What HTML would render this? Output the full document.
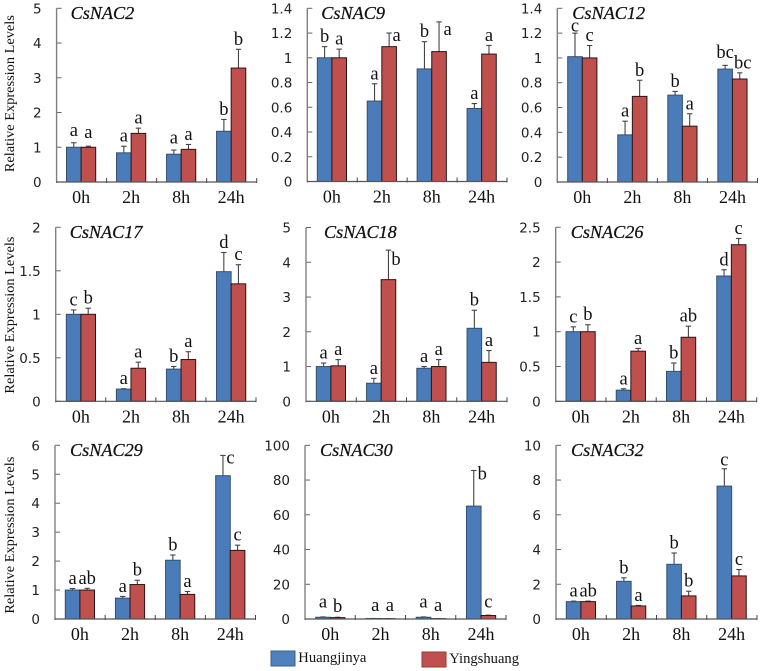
<!DOCTYPE html>
<html lang="en">
<head>
<meta charset="utf-8">
<title>CsNAC relative expression levels</title>
<style>
html,body{margin:0;padding:0;background:#fff;}
svg{display:block;}
.serif{font-family:"Liberation Serif",serif;fill:#111;}
.sans{font-family:"DejaVu Sans",sans-serif;fill:#222;}
</style>
</head>
<body>
<svg id="figure" xmlns="http://www.w3.org/2000/svg" width="761" height="671" viewBox="0 0 761 671">
  <g id="panels"></g>
  <g>
    <rect x="271" y="651" width="24" height="15" fill="#4F81BD" stroke="#3d5f86" stroke-width="1"></rect>
    <text class="serif" x="298.3" y="662" font-size="14.6">Huangjinya</text>
    <rect x="422" y="652" width="24" height="15" fill="#C0504D" stroke="#8f3b39" stroke-width="1"></rect>
    <text class="serif" x="449.3" y="663" font-size="14.6">Yingshuang</text>
  </g>
</svg>
<script>
const timepoints = ['0h', '2h', '8h', '24h'];

const nac2Ticks = ['0', '1', '2', '3', '4', '5'];
const nac2Huang = [1, 0.84, 0.8, 1.46];
const nac2HuangErr = [0.13, 0.19, 0.12, 0.34];
const nac2Ying = [1, 1.4, 0.94, 3.28];
const nac2YingErr = [0.03, 0.15, 0.14, 0.54];
const nac2HuangLetters = ['a', 'a', 'a', 'b'];
const nac2YingLetters = ['a', 'a', 'a', 'b'];

const nac9Ticks = ['0', '0.2', '0.4', '0.6', '0.8', '1', '1.2', '1.4'];
const nac9Huang = [1, 0.65, 0.91, 0.59];
const nac9HuangErr = [0.09, 0.14, 0.22, 0.04];
const nac9Ying = [1, 1.09, 1.05, 1.03];
const nac9YingErr = [0.07, 0.11, 0.24, 0.07];
const nac9HuangLetters = ['b', 'a', 'b', 'a'];
const nac9YingLetters = ['a', 'a>', 'a>', 'a'];

const nac12Ticks = ['0', '0.2', '0.4', '0.6', '0.8', '1', '1.2', '1.4'];
const nac12Huang = [1.01, 0.38, 0.7, 0.91];
const nac12HuangErr = [0.19, 0.11, 0.03, 0.03];
const nac12Ying = [1, 0.69, 0.45, 0.83];
const nac12YingErr = [0.1, 0.13, 0.1, 0.05];
const nac12HuangLetters = ['c', 'a', 'b', 'bc'];
const nac12YingLetters = ['c', 'b', 'a', 'bc'];

const nac17Ticks = ['0', '0.5', '1', '1.5', '2'];
const nac17Huang = [1, 0.14, 0.37, 1.49];
const nac17HuangErr = [0.05, 0.005, 0.03, 0.22];
const nac17Ying = [1, 0.38, 0.48, 1.35];
const nac17YingErr = [0.07, 0.07, 0.09, 0.22];
const nac17HuangLetters = ['c', 'a', 'b', 'd'];
const nac17YingLetters = ['b', 'a', 'a', 'c'];

const nac18Ticks = ['0', '1', '2', '3', '4', '5'];
const nac18Huang = [1, 0.52, 0.95, 2.1];
const nac18HuangErr = [0.1, 0.14, 0.05, 0.52];
const nac18Ying = [1.02, 3.5, 1, 1.12];
const nac18YingErr = [0.18, 0.85, 0.2, 0.34];
const nac18HuangLetters = ['a', 'a', 'a', 'b'];
const nac18YingLetters = ['a', 'b>', 'a', 'a'];

const nac26Ticks = ['0', '0.5', '1', '1.5', '2', '2.5'];
const nac26Huang = [1, 0.16, 0.43, 1.8];
const nac26HuangErr = [0.07, 0.02, 0.12, 0.09];
const nac26Ying = [1, 0.72, 0.92, 2.25];
const nac26YingErr = [0.1, 0.04, 0.16, 0.09];
const nac26HuangLetters = ['c', 'a', 'b', 'd'];
const nac26YingLetters = ['b', 'a', 'ab', 'c'];

const nac29Ticks = ['0', '1', '2', '3', '4', '5', '6'];
const nac29Huang = [1, 0.72, 2.03, 4.95];
const nac29HuangErr = [0.05, 0.06, 0.18, 0.7];
const nac29Ying = [1, 1.19, 0.85, 2.37];
const nac29YingErr = [0.06, 0.15, 0.1, 0.18];
const nac29HuangLetters = ['a', 'a', 'b', 'c>'];
const nac29YingLetters = ['ab', 'b', 'a', 'c'];

const nac30Ticks = ['0', '20', '40', '60', '80', '100'];
const nac30Huang = [1, 0.3, 1, 65];
const nac30HuangErr = [0.2, 0, 0.2, 20.5];
const nac30Ying = [0.8, 0.2, 0.2, 2];
const nac30YingErr = [0.2, 0, 0, 0.2];
const nac30HuangLetters = ['a', 'a', 'a', 'b>'];
const nac30YingLetters = ['b', 'a', 'a', 'c'];

const nac32Ticks = ['0', '2', '4', '6', '8', '10'];
const nac32Huang = [1, 2.17, 3.15, 7.65];
const nac32HuangErr = [0.03, 0.2, 0.65, 1];
const nac32Ying = [1, 0.75, 1.33, 2.48];
const nac32YingErr = [0.03, 0.03, 0.27, 0.37];
const nac32HuangLetters = ['a', 'b', 'b', 'c'];
const nac32YingLetters = ['ab', 'a', 'b', 'c'];

const NS = 'http://www.w3.org/2000/svg';
const root = document.getElementById('panels');

/* Layout nudges for letters that sit off their default spot (panel:series:group). */
function letterNudge(title, key, i) {
  const id = title + ':' + key + ':' + i;
  switch (id) {
    case 'CsNAC2:huangjinya:0': return [0, -2];
    case 'CsNAC2:yingshuang:0': return [0, -3.5];
    case 'CsNAC2:huangjinya:2': return [0, -2];
    case 'CsNAC9:yingshuang:1': return [-1, -3];
    case 'CsNAC9:yingshuang:2': return [0, 2];
    case 'CsNAC12:huangjinya:0': return [0, 3];
    case 'CsNAC12:huangjinya:3': return [0, -3];
    case 'CsNAC12:yingshuang:3': return [3, 0];
    case 'CsNAC18:yingshuang:1': return [-1, 4];
    case 'CsNAC29:huangjinya:3': return [-1, -3];
    case 'CsNAC30:huangjinya:0': return [0, -5];
    case 'CsNAC30:yingshuang:0': return [0, -1];
    case 'CsNAC30:huangjinya:1': return [2, -3];
    case 'CsNAC30:yingshuang:1': return [2, -3];
    case 'CsNAC30:huangjinya:2': return [0, -5];
    case 'CsNAC30:yingshuang:2': return [0, -3];
    case 'CsNAC30:huangjinya:3': return [0, -2];
    case 'CsNAC30:yingshuang:3': return [0, -3];
    case 'CsNAC32:huangjinya:3': return [0, 1.5];
    default: return [0, 0];
  }
}

function make(parent, tag, attrs, text) {
  const el = document.createElementNS(NS, tag);
  for (const k in attrs) el.setAttribute(k, attrs[k]);
  if (text !== undefined) el.textContent = text;
  parent.appendChild(el);
  return el;
}

function drawLetter(g, raw, cx, errTopY, name, size, nudge) {
  const side = raw.endsWith('>');
  const txt = side ? raw.slice(0, -1) : raw;
  const el = make(g, 'text', {
    x: (side ? cx + 8.5 : cx) + nudge[0],
    y: (side ? errTopY + 11 : errTopY - 4.5) + nudge[1],
    'text-anchor': 'middle',
    'font-size': size,
    class: 'serif'
  }, txt);
  
  
}

function drawPanel(p) {
  const g = make(root, 'g', {});
  
  

  const maxVal = Number(p.ticks[p.ticks.length - 1]);
  const yScale = v => p.y0 - (v / maxVal) * (p.y0 - p.yTop);
  const band = (p.xEnd - p.ax) / timepoints.length;
  const barW = 14.6;
  const xScale = i => p.barX + i * band;

  p.ticks.forEach(t => {
    const y = yScale(Number(t));
    const tick = make(g, 'line', { x1: p.ax, x2: p.ax + 5, y1: y, y2: y, stroke: '#666', 'stroke-width': 1 });
    
    
    const label = make(g, 'text', { x: p.ax - 15, y: y + 5, 'text-anchor': 'end', 'font-size': 13.5, class: 'sans' }, t);
    
    
  });

  for (let i = 0; i <= timepoints.length; i++) {
    const x = p.ax + i * band;
    const tick = make(g, 'line', { x1: x, x2: x, y1: p.y0 - 4, y2: p.y0 + 1, stroke: '#444', 'stroke-width': 1 });
    
    
  }

  const series = [
    { key: 'huangjinya', vals: p.huang, errs: p.huangErr, letters: p.huangLetters, fill: '#4A7CBA', stroke: '#34506f', dx: 0 },
    { key: 'yingshuang', vals: p.ying, errs: p.yingErr, letters: p.yingLetters, fill: '#C0504D', stroke: '#2b1414', dx: barW }
  ];

  series.forEach(s => {
    s.vals.forEach((v, i) => {
      const x = xScale(i) + s.dx;
      const cx = x + barW / 2;
      const top = yScale(v);
      const errTop = yScale(v + s.errs[i]);

      const stem = make(g, 'line', { x1: cx, x2: cx, y1: top, y2: errTop, stroke: '#444', 'stroke-width': 1.1 });
      
      
      const cap = make(g, 'line', { x1: cx - 2.7, x2: cx + 2.7, y1: errTop, y2: errTop, stroke: '#444', 'stroke-width': 1.1 });
      
      

      const bar = make(g, 'rect', { x: x, y: top, width: barW, height: Math.max(p.y0 - top, 0), fill: s.fill, stroke: s.stroke, 'stroke-width': 1 });
      
      

      drawLetter(g, s.letters[i], cx, errTop, 'significance-letter-' + s.key + '-' + timepoints[i], 18.5, letterNudge(p.title, s.key, i));
    });
  });

  const yAxis = make(g, 'line', { x1: p.ax, x2: p.ax, y1: p.yTop, y2: p.y0, stroke: '#808080', 'stroke-width': 1.4 });
  
  
  const xAxis = make(g, 'line', { x1: p.ax, x2: p.xEnd, y1: p.y0, y2: p.y0, stroke: '#555', 'stroke-width': 1.2 });
  
  

  timepoints.forEach((t, i) => {
    const label = make(g, 'text', { x: xScale(i) + barW, y: p.y0 + 21, 'text-anchor': 'middle', 'font-size': 18, class: 'serif' }, t);
    
    
  });

  const title = make(g, 'text', { x: p.ax + p.titleDx, y: p.yTop + 10.5, 'font-size': 18.2, 'font-style': 'italic', class: 'serif', stroke: '#111', 'stroke-width': 0.25 }, p.title);
  
  

  if (p.yLabel) {
    const mid = (p.y0 + p.yTop) / 2 + p.yLabelShift;
    const yl = make(g, 'text', {
      transform: 'translate(14,' + mid + ') rotate(-90)',
      'text-anchor': 'middle',
      'font-size': 14,
      textLength: 157,
      lengthAdjust: 'spacingAndGlyphs',
      class: 'serif'
    }, 'Relative Expression Levels');
    
    
  }
}

[
  { title: 'CsNAC2', ticks: nac2Ticks, huang: nac2Huang, huangErr: nac2HuangErr, ying: nac2Ying, yingErr: nac2YingErr, huangLetters: nac2HuangLetters, yingLetters: nac2YingLetters, ax: 56.6, xEnd: 256.7, y0: 182, yTop: 8.3, barX: 66.5, titleDx: 14, yLabel: true, yLabelShift: -1.5 },
  { title: 'CsNAC9', ticks: nac9Ticks, huang: nac9Huang, huangErr: nac9HuangErr, ying: nac9Ying, yingErr: nac9YingErr, huangLetters: nac9HuangLetters, yingLetters: nac9YingLetters, ax: 307.3, xEnd: 507, y0: 181.5, yTop: 8.3, barX: 317.3, titleDx: 14 },
  { title: 'CsNAC12', ticks: nac12Ticks, huang: nac12Huang, huangErr: nac12HuangErr, ying: nac12Ying, yingErr: nac12YingErr, huangLetters: nac12HuangLetters, yingLetters: nac12YingLetters, ax: 557.3, xEnd: 757.5, y0: 182, yTop: 8.3, barX: 567.7, titleDx: 15 },
  { title: 'CsNAC17', ticks: nac17Ticks, huang: nac17Huang, huangErr: nac17HuangErr, ying: nac17Ying, yingErr: nac17YingErr, huangLetters: nac17HuangLetters, yingLetters: nac17YingLetters, ax: 55.7, xEnd: 256, y0: 401.3, yTop: 227.3, barX: 66.3, titleDx: 14, yLabel: true, yLabelShift: 0.8 },
  { title: 'CsNAC18', ticks: nac18Ticks, huang: nac18Huang, huangErr: nac18HuangErr, ying: nac18Ying, yingErr: nac18YingErr, huangLetters: nac18HuangLetters, yingLetters: nac18YingLetters, ax: 306, xEnd: 507, y0: 401.3, yTop: 227.5, barX: 316.3, titleDx: 18 },
  { title: 'CsNAC26', ticks: nac26Ticks, huang: nac26Huang, huangErr: nac26HuangErr, ying: nac26Ying, yingErr: nac26YingErr, huangLetters: nac26HuangLetters, yingLetters: nac26YingLetters, ax: 555.7, xEnd: 756.7, y0: 401.3, yTop: 227.3, barX: 566, titleDx: 15 },
  { title: 'CsNAC29', ticks: nac29Ticks, huang: nac29Huang, huangErr: nac29HuangErr, ying: nac29Ying, yingErr: nac29YingErr, huangLetters: nac29HuangLetters, yingLetters: nac29YingLetters, ax: 55, xEnd: 255.5, y0: 619, yTop: 445.3, barX: 65.3, titleDx: 15, yLabel: true, yLabelShift: 3 },
  { title: 'CsNAC30', ticks: nac30Ticks, huang: nac30Huang, huangErr: nac30HuangErr, ying: nac30Ying, yingErr: nac30YingErr, huangLetters: nac30HuangLetters, yingLetters: nac30YingLetters, ax: 305, xEnd: 506, y0: 619, yTop: 445.3, barX: 315.7, titleDx: 15 },
  { title: 'CsNAC32', ticks: nac32Ticks, huang: nac32Huang, huangErr: nac32HuangErr, ying: nac32Ying, yingErr: nac32YingErr, huangLetters: nac32HuangLetters, yingLetters: nac32YingLetters, ax: 556, xEnd: 757, y0: 619, yTop: 445.3, barX: 566.3, titleDx: 15 }
].forEach(drawPanel);
</script>
</body>
</html>
